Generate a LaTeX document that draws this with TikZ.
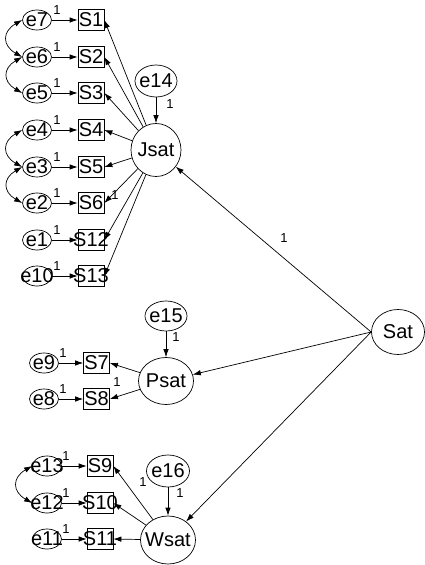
\documentclass[tikz,border=0pt]{standalone}
\usepackage{fontspec}
\setmainfont{Liberation Sans}
\usetikzlibrary{shapes.geometric,arrows.meta}
\newcommand\bigf{\fontsize{20}{20}\selectfont}
\newcommand\smf{\fontsize{13}{13}\selectfont}
\begin{document}
\begin{tikzpicture}[x=1pt,y=-1pt,line width=0.7pt,
  err/.style={ellipse,draw,inner sep=0pt,minimum width=29pt,minimum height=20pt},
  obs/.style={rectangle,draw,inner sep=0pt,minimum width=26pt,minimum height=21pt},
  lat/.style={ellipse,draw,inner sep=0pt},
  every label/.style={font=\bigf,inner sep=0pt},
  arr/.style={-{Latex[length=8pt,width=5.5pt]}},
  cov/.style={{Latex[length=8pt,width=5.5pt]}-{Latex[length=8pt,width=5.5pt]}},
  one/.style={font=\smf,inner sep=0pt}]
\useasboundingbox (0,0) rectangle (425,565);
\fill[white] (0,0) rectangle (425,565);

% latent variables
\node[lat,minimum width=50pt,minimum height=53pt,label=center:Jsat] (Jsat) at (156,150) {};
\node[lat,minimum width=42pt,minimum height=32pt,label=center:e14] (e14) at (156,81) {};
\node[lat,minimum width=53pt,minimum height=45pt,label=center:Sat] (Sat) at (398,332) {};
\node[lat,minimum width=55pt,minimum height=47pt,label=center:Psat] (Psat) at (166,381) {};
\node[lat,minimum width=42pt,minimum height=30pt,label=center:e15] (e15) at (166,316) {};
\node[lat,minimum width=55pt,minimum height=48pt,label=center:Wsat] (Wsat) at (168,540) {};
\node[lat,minimum width=43pt,minimum height=32pt,label=center:e16] (e16) at (168,471) {};

% Jsat indicators
\foreach \n/\s/\y in {7/1/20,6/2/57,5/3/93,4/4/130,3/5/167,2/6/203,1/12/240,10/13/276}{
  \node[err,label=center:e\n] (e\n) at (37,\y) {};
  \node[obs,label=center:S\s] (S\s) at (91,\y) {};
  \draw[arr] (e\n) -- (S\s);
  \node[one] (o\n) at (57,\y-10) {1};
  \draw[arr] (Jsat) -- (S\s.east);
}

% Psat indicators
\foreach \n/\s/\y in {9/7/363,8/8/399}{
  \node[err,label=center:e\n] (e\n) at (44,\y) {};
  \node[obs,label=center:S\s] (S\s) at (96.5,\y) {};
  \draw[arr] (e\n) -- (S\s);
  \node[one] (o\n) at (63,\y-10) {1};
  \draw[arr] (Psat) -- (S\s.east);
}

% Wsat indicators
\foreach \n/\s/\y in {13/9/466,12/10/503,11/11/539}{
  \node[err,label=center:e\n] (e\n) at (47,\y) {};
  \node[obs,label=center:S\s] (S\s) at (100,\y) {};
  \draw[arr] (e\n) -- (S\s);
  \node[one] (o\n) at (66,\y-10) {1};
  \draw[arr] (Wsat) -- (S\s.east);
}

% covariances
\draw[cov] (e7.west) to[out=210,in=150,looseness=1.6] (e6.west);
\draw[cov] (e6.west) to[out=210,in=150,looseness=1.6] (e5.west);
\draw[cov] (e4.west) to[out=210,in=150,looseness=1.6] (e3.west);
\draw[cov] (e3.west) to[out=210,in=150,looseness=1.6] (e2.west);
\draw[cov] (e13.west) to[out=210,in=150,looseness=1.6] (e12.west);

% residuals
\draw[arr] (e14) -- (Jsat);
\draw[arr] (e15) -- (Psat);
\draw[arr] (e16) -- (Wsat);
\node[one] (l14) at (170,104) {1};
\node[one] (l15) at (176,337) {1};
\node[one] (l16) at (180,493) {1};

% fixed loadings
\node[one] (lS6) at (115,195) {1};
\node[one] (lS8) at (117,382) {1};
\node[one] (lS9) at (143,482) {1};

% second-order
\draw[arr] (Sat.west) -- (Jsat);
\draw[arr] (Sat.west) -- (Psat);
\draw[arr] (Sat.west) -- (Wsat);
\node[one] (lJ) at (284,238) {1};
\end{tikzpicture}
\end{document}
